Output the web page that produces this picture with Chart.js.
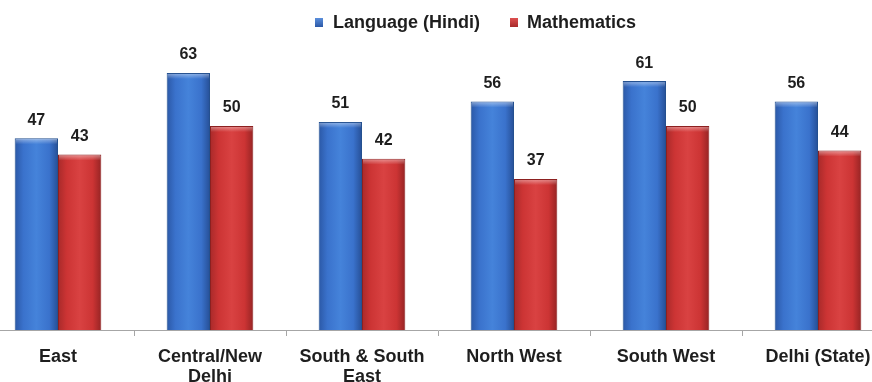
<!DOCTYPE html>
<html>
<head>
<meta charset="utf-8">
<script src="https://cdn.jsdelivr.net/npm/chart.js@4.4.0/dist/chart.umd.min.js"></script>
<style>
  body { margin: 0; background: #fff; overflow: hidden; }
  #page { position: relative; width: 872px; height: 382px; overflow: hidden; }
  .chart-box { position: absolute; left: -18px; top: 0; width: 912px; height: 382px; }
  .legend-item { position: absolute; font: bold 18px 'Liberation Sans', Arial, sans-serif; color: #1e1e1e; line-height: 20px; white-space: nowrap; }
  .legend-box { position: absolute; width: 8px; height: 9px; }
</style>
</head>
<body>
<div id="page">
  <div class="chart-box"><canvas id="myChart"></canvas></div>
  <div class="legend-box" id="boxLang" style="left:315px;top:18px"></div>
  <div class="legend-item" id="txtLang" style="left:333px;top:12px"></div>
  <div class="legend-box" id="boxMath" style="left:510px;top:18px"></div>
  <div class="legend-item" id="txtMath" style="left:527px;top:12px"></div>
</div>
<script>
"use strict"

const zones = [
    "East",
    ["Central/New", "Delhi"],
    ["South & South", "East"],
    "North West",
    "South West",
    "Delhi (State)"
]
const seriesNames = ["Language (Hindi)", "Mathematics"]
const hindiScores = [47, 63, 51, 56, 61, 56]
const mathsScores = [43, 50, 42, 37, 50, 44]

const CAT_PCT = 0.57

// dark edge -> light middle -> dark edge, like a shaded cylinder
const BLUE = ['#2b58a6', '#3a72cc', '#4583da', '#3a72cc', '#264f96']
const RED = ['#a82a2a', '#cc3434', '#d94242', '#cc3434', '#962424']

function shadedFill(stops) {
    return (ctx) => {
        const chart = ctx.chart
        const xs = chart.scales.x
        if (!chart.chartArea || !xs) return stops[1]
        const catW = xs.width / zones.length
        const barW = catW * CAT_PCT / 2
        const left = xs.getPixelForValue(ctx.dataIndex) - catW * CAT_PCT / 2 + ctx.datasetIndex * barW
        const g = chart.ctx.createLinearGradient(left, 0, left + barW, 0)
        g.addColorStop(0, stops[0])
        g.addColorStop(0.2, stops[1])
        g.addColorStop(0.5, stops[2])
        g.addColorStop(0.8, stops[3])
        g.addColorStop(1, stops[4])
        return g
    }
}

// light bevel along the top of each bar
const barBevel = {
    id: 'barBevel',
    afterDatasetsDraw(chart) {
        const ctx = chart.ctx
        ctx.save()
        chart.data.datasets.forEach((ds, i) => {
            chart.getDatasetMeta(i).data.forEach(bar => {
                const half = bar.width / 2
                const g = ctx.createLinearGradient(0, bar.y, 0, bar.y + 6)
                g.addColorStop(0, 'rgba(255,255,255,0.45)')
                g.addColorStop(1, 'rgba(255,255,255,0)')
                ctx.fillStyle = g
                ctx.fillRect(bar.x - half + 1, bar.y + 1, bar.width - 2, 5)
            })
        })
        ctx.restore()
    }
}

// numbers above every bar
const valueLabels = {
    id: 'valueLabels',
    afterDatasetsDraw(chart) {
        const ctx = chart.ctx
        ctx.save()
        ctx.font = "bold 16px 'Liberation Sans Narrow', 'Liberation Sans', Arial, sans-serif"
        ctx.fillStyle = '#1e1e1e'
        ctx.textAlign = 'center'
        ctx.textBaseline = 'middle'
        chart.data.datasets.forEach((ds, i) => {
            chart.getDatasetMeta(i).data.forEach((bar, j) => {
                ctx.fillText(ds.data[j], bar.x, bar.y - 18)
            })
        })
        ctx.restore()
    }
}

function drawLegend() {
    document.getElementById('txtLang').innerText = seriesNames[0]
    document.getElementById('txtMath').innerText = seriesNames[1]
    document.getElementById('boxLang').style.background = 'linear-gradient(#5b8fdc, #2b58a6)'
    document.getElementById('boxMath').style.background = 'linear-gradient(#de5050, #a82a2a)'
}

function drawBarChart() {
    const ctx = document.getElementById('myChart').getContext('2d')
    const chart = new Chart(ctx, {
        type: 'bar',
        data: {
            labels: zones,
            datasets: [
                {
                    label: seriesNames[0],
                    data: hindiScores,
                    backgroundColor: shadedFill(BLUE),
                    borderColor: '#24508f',
                    borderWidth: { left: 1, right: 1, top: 1, bottom: 0 },
                },
                {
                    label: seriesNames[1],
                    data: mathsScores,
                    backgroundColor: shadedFill(RED),
                    borderColor: '#8c2020',
                    borderWidth: { left: 1, right: 1, top: 1, bottom: 0 },
                }
            ]
        },
        options: {
            responsive: true,
            maintainAspectRatio: false,
            animation: false,
            categoryPercentage: CAT_PCT,
            barPercentage: 1,
            layout: { padding: { top: 44.4, left: 0, right: 0, bottom: 0 } },
            plugins: {
                legend: { display: false },
                tooltip: { enabled: false }
            },
            scales: {
                x: {
                    offset: true,
                    grid: {
                        display: true,
                        offset: true,
                        drawOnChartArea: false,
                        tickLength: 6,
                        color: '#a6a6a6'
                    },
                    border: { display: true, color: '#a6a6a6', width: 1 },
                    ticks: {
                        color: '#1e1e1e',
                        font: { family: "'Liberation Sans', Arial, sans-serif", size: 18, weight: 'bold', lineHeight: 1.12 },
                        padding: 11,
                        maxRotation: 0,
                        autoSkip: false
                    },
                    afterFit(scale) { scale.height = 52 }
                },
                y: {
                    display: false,
                    min: 0,
                    max: 70
                }
            }
        },
        plugins: [barBevel, valueLabels]
    })
    return chart
}

drawLegend()
drawBarChart()
</script>
</body>
</html>
